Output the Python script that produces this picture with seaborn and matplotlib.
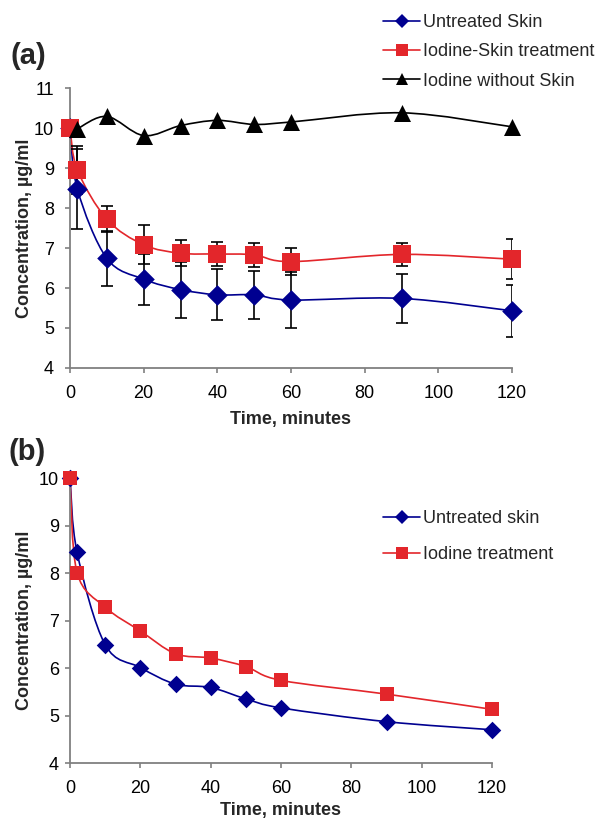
import numpy as np
import pandas as pd
import matplotlib
matplotlib.use("Agg")
import matplotlib.pyplot as plt
import seaborn as sns
from matplotlib.path import Path
from matplotlib.patches import PathPatch
from matplotlib.lines import Line2D

# ---------------- data ----------------
time_a = [0, 2, 10, 20, 30, 40, 50, 60, 90, 120]
untreated_a = [10.0, 8.47, 6.74, 6.22, 5.96, 5.83, 5.83, 5.70, 5.74, 5.43]
untreated_a_err = [0.0, 1.0, 0.68, 0.64, 0.70, 0.64, 0.60, 0.70, 0.62, 0.65]
iodine_skin_a = [10.0, 8.95, 7.72, 7.08, 6.87, 6.85, 6.83, 6.66, 6.84, 6.72]
iodine_skin_a_err = [0.0, 0.60, 0.33, 0.49, 0.33, 0.29, 0.30, 0.34, 0.28, 0.50]
time_noskin = [2, 10, 20, 30, 40, 50, 60, 90, 120]
iodine_noskin_a = [9.98, 10.29, 9.81, 10.06, 10.19, 10.09, 10.15, 10.38, 10.03]

time_b = [0, 2, 10, 20, 30, 40, 50, 60, 90, 120]
untreated_b = [10.0, 8.44, 6.49, 6.01, 5.66, 5.59, 5.35, 5.16, 4.87, 4.70]
iodine_b = [10.0, 8.01, 7.28, 6.78, 6.30, 6.21, 6.03, 5.74, 5.45, 5.13]

labels_a = ["Untreated Skin", "Iodine-Skin treatment", "Iodine without Skin"]
labels_b = ["Untreated skin", "Iodine treatment"]
x_ticks = [0, 20, 40, 60, 80, 100, 120]

BLUE = "#000090"
RED = "#e3262b"
BLACK = "#000000"
AXC = "#808080"
FS = 13

sns.set_theme(style="ticks")
plt.rcParams["font.family"] = ["Liberation Sans", "DejaVu Sans"]


def smooth_path(ax, xs, ys, color, lw=1.2, z=2):
    """Excel-like smoothed line: cubic Bezier through the data points."""
    xs = np.asarray(xs, float)
    ys = np.asarray(ys, float)
    n = len(xs)
    verts = [(xs[0], ys[0])]
    codes = [Path.MOVETO]
    for i in range(n - 1):
        p0 = np.array([xs[max(i - 1, 0)], ys[max(i - 1, 0)]])
        p1 = np.array([xs[i], ys[i]])
        p2 = np.array([xs[i + 1], ys[i + 1]])
        p3 = np.array([xs[min(i + 2, n - 1)], ys[min(i + 2, n - 1)]])
        c1 = p1 + (p2 - p0) / 6.0
        c2 = p2 - (p3 - p1) / 6.0
        verts += [tuple(c1), tuple(c2), tuple(p2)]
        codes += [Path.CURVE4] * 3
    patch = PathPatch(Path(verts, codes), facecolor="none", edgecolor=color,
                      lw=lw, zorder=z, transform=ax.transData, clip_on=False)
    ax.add_patch(patch)


def style_axes(ax, ypad):
    sns.despine(ax=ax)
    for s in ("left", "bottom"):
        ax.spines[s].set_color(AXC)
        ax.spines[s].set_linewidth(1.3)
    ax.tick_params(axis="both", direction="out", length=3.5, width=1.2,
                   color=AXC, labelsize=FS, labelcolor="black")
    ax.tick_params(axis="x", pad=9)
    ax.tick_params(axis="y", pad=ypad)
    ax.set_facecolor("white")
    ax.grid(False)


fig = plt.figure(figsize=(6.03, 8.22), dpi=100)
fig.patch.set_facecolor("white")

# ---------------- panel (a) ----------------
ax1 = fig.add_axes([70 / 603, 1 - 368 / 822, 442 / 603, 280 / 822])
style_axes(ax1, 8)

df_a = pd.DataFrame({
    "time": time_a * 2,
    "conc": untreated_a + iodine_skin_a,
    "series": [labels_a[0]] * len(time_a) + [labels_a[1]] * len(time_a),
})
df_n = pd.DataFrame({"time": time_noskin, "conc": iodine_noskin_a,
                     "series": [labels_a[2]] * len(time_noskin)})

smooth_path(ax1, time_a, untreated_a, BLUE)
smooth_path(ax1, time_a, iodine_skin_a, RED)
smooth_path(ax1, time_noskin, iodine_noskin_a, BLACK)

for ys, es in ((untreated_a, untreated_a_err), (iodine_skin_a, iodine_skin_a_err)):
    ax1.errorbar(time_a[1:], ys[1:], yerr=es[1:], fmt="none",
                 ecolor="black", elinewidth=1.2, capsize=4.5, capthick=1.2,
                 zorder=3)

sns.scatterplot(data=df_a[df_a.series == labels_a[0]], x="time", y="conc", ax=ax1,
                marker="D", s=110, color=BLUE, linewidth=0, zorder=4,
                legend=False, clip_on=False)
sns.scatterplot(data=df_a[df_a.series == labels_a[1]], x="time", y="conc", ax=ax1,
                marker="s", s=150, color=RED, linewidth=0, zorder=5,
                legend=False, clip_on=False)
sns.scatterplot(data=df_n, x="time", y="conc", ax=ax1,
                marker="^", s=150, color=BLACK, linewidth=0, zorder=5,
                legend=False, clip_on=False)

ax1.set_xlim(0, 120)
ax1.set_ylim(4, 11)
ax1.set_xticks(x_ticks)
ax1.set_yticks(range(4, 12))
ax1.set_xlabel("Time, minutes", fontsize=FS, fontweight="bold")
ax1.set_ylabel("Concentration, µg/ml", fontsize=FS, fontweight="bold")
ax1.xaxis.set_label_coords(0.5, -(411 - 368) / 280)
ax1.yaxis.set_label_coords(-(70 - 33) / 442, 0.5)

handles_a = [
    Line2D([], [], color=BLUE, lw=1.2, marker="D", ms=7, markeredgewidth=0),
    Line2D([], [], color=RED, lw=1.2, marker="s", ms=8, markeredgewidth=0),
    Line2D([], [], color=BLACK, lw=1.2, marker="^", ms=8, markeredgewidth=0),
]
fig.legend(handles_a, labels_a, loc="upper left",
           bbox_to_anchor=(383 / 603, 1 - 14 / 822), frameon=False,
           fontsize=FS, handlelength=2.05, handletextpad=0.17,
           labelspacing=0.68, borderpad=0, borderaxespad=0)
fig.text(11 / 603, 1 - 56 / 822, "(a)", fontsize=21, fontweight="bold",
         va="center", ha="left")

# ---------------- panel (b) ----------------
ax2 = fig.add_axes([70 / 603, 1 - 763 / 822, 422 / 603, 285 / 822])
style_axes(ax2, 4.5)

df_b = pd.DataFrame({
    "time": time_b * 2,
    "conc": untreated_b + iodine_b,
    "series": [labels_b[0]] * len(time_b) + [labels_b[1]] * len(time_b),
})

smooth_path(ax2, time_b, untreated_b, BLUE)
smooth_path(ax2, time_b, iodine_b, RED)
sns.scatterplot(data=df_b[df_b.series == labels_b[0]], x="time", y="conc", ax=ax2,
                marker="D", s=80, color=BLUE, linewidth=0, zorder=4,
                legend=False, clip_on=False)
sns.scatterplot(data=df_b[df_b.series == labels_b[1]], x="time", y="conc", ax=ax2,
                marker="s", s=110, color=RED, linewidth=0, zorder=5,
                legend=False, clip_on=False)

ax2.set_xlim(0, 120)
ax2.set_ylim(4, 10)
ax2.set_xticks(x_ticks)
ax2.set_yticks(range(4, 11))
ax2.set_xlabel("Time, minutes", fontsize=FS, fontweight="bold")
ax2.set_ylabel("Concentration, µg/ml", fontsize=FS, fontweight="bold")
ax2.xaxis.set_label_coords(0.5, -(802 - 763) / 285)
ax2.yaxis.set_label_coords(-(70 - 33) / 422, 0.5)

handles_b = [
    Line2D([], [], color=BLUE, lw=1.2, marker="D", ms=7, markeredgewidth=0),
    Line2D([], [], color=RED, lw=1.2, marker="s", ms=8, markeredgewidth=0),
]
fig.legend(handles_b, labels_b, loc="upper left",
           bbox_to_anchor=(383 / 603, 1 - 510 / 822), frameon=False,
           fontsize=FS, handlelength=2.05, handletextpad=0.17,
           labelspacing=1.05, borderpad=0, borderaxespad=0)
fig.text(8 / 603, 1 - 452 / 822, "(b)", fontsize=21, fontweight="bold",
         va="center", ha="left")

fig.savefig("out.png", dpi=100, facecolor="white")
